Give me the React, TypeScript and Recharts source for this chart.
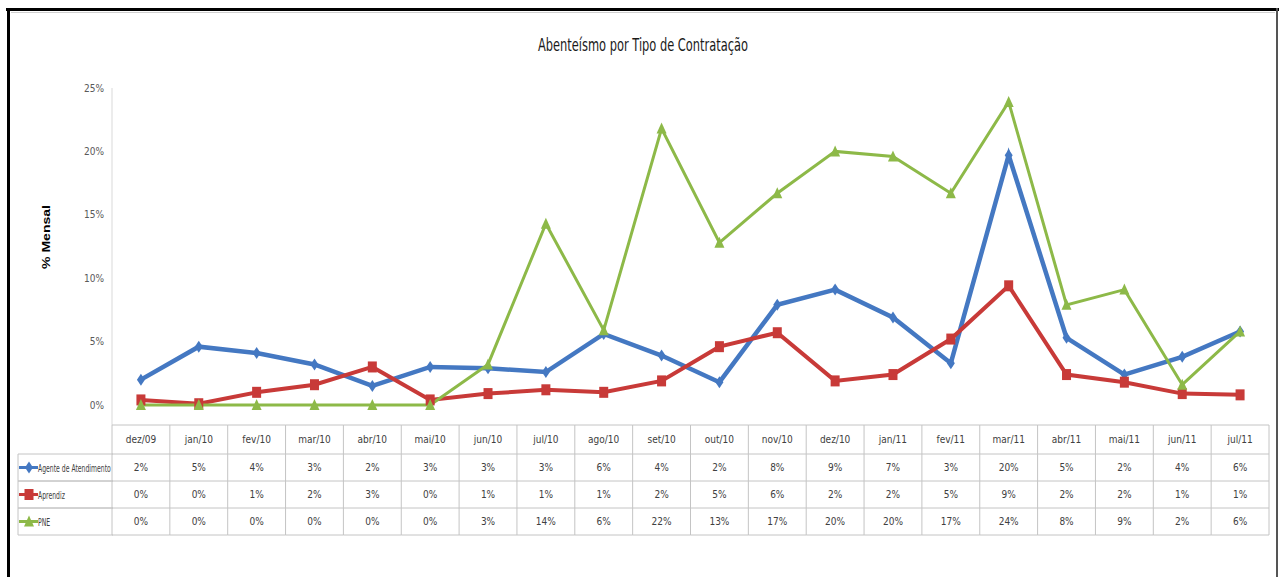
import React from 'react';
import { LineChart, Line, XAxis, YAxis } from 'recharts';

const months = [
  'dez/09', 'jan/10', 'fev/10', 'mar/10', 'abr/10', 'mai/10', 'jun/10', 'jul/10', 'ago/10', 'set/10',
  'out/10', 'nov/10', 'dez/10', 'jan/11', 'fev/11', 'mar/11', 'abr/11', 'mai/11', 'jun/11', 'jul/11',
];
const agente = [2.0, 4.6, 4.1, 3.2, 1.5, 3.0, 2.9, 2.6, 5.6, 3.9, 1.8, 7.9, 9.1, 6.9, 3.3, 19.7, 5.3, 2.4, 3.8, 5.8];
const aprendiz = [0.4, 0.1, 1.0, 1.6, 3.0, 0.4, 0.9, 1.2, 1.0, 1.9, 4.6, 5.7, 1.9, 2.4, 5.2, 9.4, 2.4, 1.8, 0.9, 0.8];
const pne = [0, 0, 0, 0, 0, 0, 3.2, 14.3, 5.9, 21.8, 12.8, 16.7, 20.0, 19.6, 16.7, 23.9, 7.9, 9.1, 1.6, 5.8];
const yTicks = [0, 5, 10, 15, 20, 25];

const series = [
  { key: 'agente', name: 'Agente de Atendimento', values: agente, color: '#4478C2', width: 4.5, shape: 'diamond' },
  { key: 'aprendiz', name: 'Aprendiz', values: aprendiz, color: '#C83A38', width: 4, shape: 'square' },
  { key: 'pne', name: 'PNE', values: pne, color: '#8DB948', width: 3, shape: 'triangle' },
];

const chartData = months.map((m, i) => ({
  month: m,
  agente: agente[i],
  aprendiz: aprendiz[i],
  pne: pne[i],
}));

const FONT = "'Liberation Sans Narrow', 'DejaVu Sans Condensed', sans-serif";
const BAND = 57.85;
const ROWS = [0, 29, 56, 83, 110]; // row boundaries below the table top
const GRID = '#c4c4c4';

function marker(shape: string, cx: number, cy: number, color: string, key?: any) {
  if (shape === 'diamond') {
    return <polygon key={key} points={`${cx},${cy - 6} ${cx + 4},${cy} ${cx},${cy + 6} ${cx - 4},${cy}`} fill={color} />;
  }
  if (shape === 'square') {
    return <rect key={key} x={cx - 4.5} y={cy - 5.5} width={9} height={11} fill={color} />;
  }
  return <polygon key={key} points={`${cx},${cy - 6} ${cx + 5},${cy + 5} ${cx - 5},${cy + 5}`} fill={color} />;
}

function makeDot(shape: string, color: string) {
  return (props: any) => {
    const { cx, cy, index } = props;
    if (cx == null || cy == null) return <g key={index} />;
    return marker(shape, cx, cy, color, index);
  };
}

// each x tick draws one column of the data table
function TableColumn(props: any) {
  const { x, y, payload } = props;
  const i = months.indexOf(payload.value);
  const left = x - BAND / 2;
  const right = x + BAND / 2;
  return (
    <g>
      {ROWS.map((r) => (
        <line key={r} x1={left} x2={right} y1={y + r} y2={y + r} stroke={GRID} />
      ))}
      <line x1={right} x2={right} y1={y} y2={y + ROWS[4]} stroke={GRID} />
      {i === 0 && <line x1={left} x2={left} y1={y} y2={y + ROWS[4]} stroke={GRID} />}
      <text x={x} y={y + 18} textAnchor="middle" fontSize={10} fill="#404040" fontFamily={FONT}>
        {payload.value}
      </text>
      {series.map((s, k) => (
        <text key={s.key} x={x} y={y + ROWS[k + 1] + 17} textAnchor="middle" fontSize={10} fill="#404040" fontFamily={FONT}>
          {Math.round(s.values[i])}%
        </text>
      ))}
    </g>
  );
}

export default function App() {
  const tableTop = 425;
  return (
    <div style={{ position: 'absolute', left: 0, top: 0, width: 1279, height: 577, background: '#fff', overflow: 'hidden' }}>
      <LineChart
        width={1279}
        height={577}
        data={chartData}
        margin={{ top: 88, right: 10, bottom: 41, left: 52 }}
      >
        <XAxis
          dataKey="month"
          interval={0}
          axisLine={false}
          tickLine={false}
          tickSize={0}
          tickMargin={0}
          height={111}
          padding={{ left: BAND / 2, right: BAND / 2 }}
          tick={<TableColumn />}
        />
        <YAxis
          width={60}
          domain={[0, 25]}
          ticks={yTicks}
          tickFormatter={(v) => `${v}%`}
          tickLine={false}
          axisLine={{ stroke: '#d9d9d9' }}
          padding={{ top: 0, bottom: 20 }}
          tick={{ fontSize: 10, fill: '#595959', fontFamily: FONT }}
        />
        {series.map((s) => (
          <Line
            key={s.key}
            type="linear"
            dataKey={s.key}
            name={s.name}
            stroke={s.color}
            strokeWidth={s.width}
            dot={makeDot(s.shape, s.color)}
            activeDot={false}
            isAnimationActive={false}
          />
        ))}
      </LineChart>

      <svg width={1279} height={577} style={{ position: 'absolute', left: 0, top: 0, pointerEvents: 'none' }}>
        {/* frame */}
        <rect x={6} y={8} width={1273} height={3} fill="#000" />
        <rect x={7} y={8} width={3} height={569} fill="#000" />
        <rect x={1276} y={8} width={2} height={569} fill="#555" />
        <line x1={11} x2={1275} y1={12.5} y2={12.5} stroke="#cfcfcf" />

        <text x={643} y={51} textAnchor="middle" fontSize={17} fill="#1a1a1a" fontFamily={FONT} textLength={210} lengthAdjust="spacingAndGlyphs">
          Abenteísmo por Tipo de Contratação
        </text>

        <text
          transform="translate(50, 237) rotate(-90)"
          textAnchor="middle"
          fontSize={10}
          fontWeight="bold"
          fill="#000"
          fontFamily="'Liberation Sans', Arial, sans-serif"
          textLength={64}
          lengthAdjust="spacingAndGlyphs"
        >
          % Mensal
        </text>

        {/* row labels of the data table */}
        {series.map((s, k) => {
          const top = tableTop + ROWS[k + 1];
          const bottom = tableTop + ROWS[k + 2];
          const mid = (top + bottom) / 2;
          return (
            <g key={s.key}>
              <line x1={18} x2={113} y1={top} y2={top} stroke={GRID} />
              <line x1={18} x2={113} y1={bottom} y2={bottom} stroke={GRID} />
              <line x1={18} x2={18} y1={top} y2={bottom} stroke={GRID} />
              <line x1={19} x2={38} y1={mid} y2={mid} stroke={s.color} strokeWidth={3} />
              {marker(s.shape, 29, mid, s.color)}
              <text
                transform={`translate(38, ${mid + 4}) scale(0.68, 1)`}
                fontSize={10}
                fill="#404040"
                fontFamily={FONT}
              >
                {s.name}
              </text>
            </g>
          );
        })}
      </svg>
    </div>
  );
}
